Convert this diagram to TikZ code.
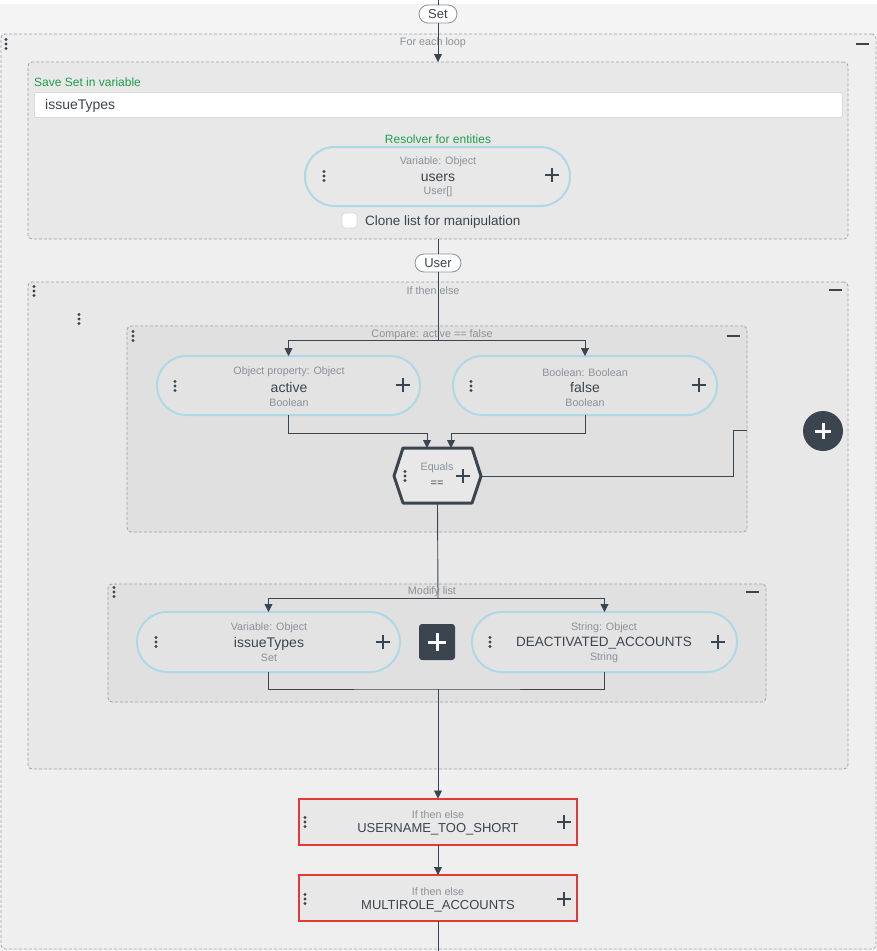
\documentclass[tikz,border=0pt]{standalone}
\usepackage{fontspec}
\setmainfont{Liberation Sans}
\usetikzlibrary{shapes.misc,arrows.meta,fit,calc}
\definecolor{dark}{HTML}{3B4550}
\definecolor{lbl}{HTML}{8A9198}
\definecolor{dashc}{HTML}{9AA0A6}
\definecolor{grn}{HTML}{1E9E4A}
\definecolor{pillc}{HTML}{ADD8E6}
\definecolor{redc}{HTML}{E53935}
\definecolor{bgtop}{HTML}{F4F4F4}
\definecolor{bgloop}{HTML}{EFEFEF}
\definecolor{bgmid}{HTML}{E8E8E8}
\definecolor{bgin}{HTML}{E0E0E0}
\tikzset{
  container/.style={draw=dashc, dash pattern=on 3pt off 2pt, line width=0.8pt, rounded corners=4pt, inner sep=0pt, outer sep=0pt},
  pill/.style={rounded rectangle, draw=pillc, line width=2pt, inner sep=0pt, outer sep=0pt},
  tagpill/.style={rounded rectangle, draw=lbl, fill=white, line width=0.8pt, inner sep=0pt, minimum width=38pt, minimum height=18pt, font=\fontsize{13}{14}\selectfont, text=dark},
  redbox/.style={draw=redc, fill=bgmid, line width=2pt, inner sep=0pt, outer sep=0pt, minimum width=278pt, minimum height=46pt},
  hdr/.style={font=\fontsize{10.8}{12}\selectfont, text=lbl, inner sep=0pt, yshift=-1pt},
  small/.style={font=\fontsize{10.7}{12}\selectfont, text=lbl, inner sep=0pt, yshift=-1.2pt},
  big/.style={font=\fontsize{14}{16}\selectfont, text=dark, inner sep=0pt, yshift=-1.5pt},
  green/.style={font=\fontsize{12}{14}\selectfont, text=grn, inner sep=0pt, yshift=-1pt},
  conn/.style={draw=dark, line width=0.9pt},
  arr/.style={conn, -{Triangle[width=8pt,length=8pt]}},
  threedots/.pic={\foreach \d in {-4.5,0,4.5} \fill[dark] (0,\d) circle (1.6);},
  plusicon/.pic={\draw[dark,line width=2pt] (-7,0)--(7,0) (0,-7)--(0,7);},
  minusicon/.pic={\draw[dark,line width=2.5pt] (-6.5,0)--(6.5,0);},
}
\begin{document}
\begin{tikzpicture}[x=1pt,y=-1pt]
\useasboundingbox (0,0) rectangle (877,951);
\fill[bgtop] (0,0) rectangle (877,951);
\fill[white] (0,0) rectangle (877,4);

% containers
\node[container, fill=bgloop, fit={(1,34) (876,949)}] (loop) {};
\node[hdr] (looplbl) at (433,42) {For each loop};
\pic at (6,44) {threedots};
\pic at (862,44) {minusicon};

\node[container, fill=bgmid, fit={(28,62) (848,239)}] (save) {};
\node[green, anchor=west] (savelbl) at (34,81) {Save Set in variable};
\node[draw=white!85!black, fill=white, rounded corners=2pt, line width=0.8pt, minimum width=808pt, minimum height=25pt, inner sep=0pt, anchor=north west] (input) at (34,92) {};
\node[big, anchor=west] (inputtxt) at (45,104.5) {issueTypes};
\node[green] (reslbl) at (438,138) {Resolver for entities};
\node[pill, fill=bgmid, minimum width=265pt, minimum height=59pt] (users) at (437.5,176.5) {};
\node[small] (usersa) at (438,161) {Variable: Object};
\node[big] (usersb) at (438,176) {users};
\node[small] (usersc) at (438,191) {User[]};
\pic at (324,176) {threedots};
\pic at (552,175) {plusicon};
\node[draw=white!85!black, fill=white, rounded corners=3pt, line width=0.8pt, minimum size=15pt, inner sep=0pt] (chk) at (349.5,220.5) {};
\node[font=\fontsize{13.5}{15}\selectfont, text=dark, inner sep=0pt, anchor=west, yshift=-2pt] (chktxt) at (365,220) {Clone list for manipulation};

\node[container, fill=bgmid, fit={(28,282) (848,769)}] (ite) {};
\node[hdr] (itelbl) at (433,290) {If then else};
\pic at (34,291) {threedots};
\pic at (835,290) {minusicon};
\pic at (79,319) {threedots};

\node[container, fill=bgin, fit={(127,326) (747,532)}] (cmp) {};
\node[hdr] (cmplbl) at (432,334) {Compare: active == false};
\pic at (133,336) {threedots};
\pic at (733,336) {minusicon};

\node[pill, fill=bgin!60!bgmid, minimum width=263pt, minimum height=59pt] (active) at (288.5,385.5) {};
\node[small] (acta) at (289,371) {Object property: Object};
\node[big] (actb) at (289,386) {active};
\node[small] (actc) at (289,401) {Boolean};
\pic at (175,386) {threedots};
\pic at (403,385) {plusicon};

\node[pill, fill=bgin!60!bgmid, minimum width=264pt, minimum height=59pt] (false) at (585,385.5) {};
\node[small] (fala) at (585,371) {Boolean: Boolean};
\node[big] (falb) at (585,386) {false};
\node[small] (falc) at (585,401) {Boolean};
\pic at (471,386) {threedots};
\pic at (699,385) {plusicon};

% hexagon
\node[minimum width=87pt, minimum height=56pt, inner sep=0pt, outer sep=0pt] (eq) at (437.5,475.5) {};
\draw[dark, line width=3pt, fill=bgmid, line join=round] (403,448) -- (472,448) -- (481,476) -- (472,503) -- (403,503) -- (394,476) -- cycle;
\node[small] (eqa) at (437,467) {Equals};
\node[font=\fontsize{11}{12}\selectfont, text=dark, inner sep=0pt, yshift=-1.5pt] (eqb) at (437,482) {==};
\pic at (405,476) {threedots};
\pic at (463,476) {plusicon};

\node[circle, fill=dark, minimum size=40pt, inner sep=0pt] (addc) at (823,431) {};
\draw[white, line width=3pt] (815,431) -- (831,431) (823,423) -- (823,439);

\node[container, fill=bgin, fit={(108,584) (766,702)}] (mod) {};
\node[hdr] (modlbl) at (432,591) {Modify list};
\pic at (114,592) {threedots};
\pic at (752,592) {minusicon};

\node[pill, fill=bgin!60!bgmid, minimum width=263pt, minimum height=60pt] (issue) at (268.5,642) {};
\node[small] (isa) at (269,627) {Variable: Object};
\node[big] (isb) at (269,642) {issueTypes};
\node[small] (isc) at (269,657) {Set};
\pic at (156,642) {threedots};
\pic at (383,642) {plusicon};

\node[fill=dark, rounded corners=3pt, minimum size=36pt, inner sep=0pt] (addsq) at (437,642) {};
\draw[white, line width=3pt] (428,642) -- (446,642) (437,633) -- (437,651);

\node[pill, fill=bgin!60!bgmid, minimum width=265pt, minimum height=60pt] (deact) at (604.5,642) {};
\node[small] (dea) at (604,627) {String: Object};
\node[big, font=\fontsize{13.5}{15}\selectfont] (deb) at (604,642) {DEACTIVATED\_ACCOUNTS};
\node[small] (dec) at (604,657) {String};
\pic at (490,642) {threedots};
\pic at (718,642) {plusicon};

% red boxes
\node[redbox] (r1) at (438,821.5) {};
\node[small] (r1a) at (438,813) {If then else};
\node[big, font=\fontsize{13}{15}\selectfont] (r1b) at (438,828) {USERNAME\_TOO\_SHORT};
\pic at (305,822) {threedots};
\pic at (564,822) {plusicon};

\node[redbox] (r2) at (438,898) {};
\node[small] (r2a) at (438,890) {If then else};
\node[big, font=\fontsize{13}{15}\selectfont] (r2b) at (438,905) {MULTIROLE\_ACCOUNTS};
\pic at (305,899) {threedots};
\pic at (564,899) {plusicon};

% tag pills
\node[tagpill] (set) at (438,14) {Set};
\node[tagpill, minimum width=46pt] (user) at (438,263) {User};

% connectors
\coordinate (top) at (438,0);
\coordinate (bottom) at (438,951);
\coordinate (br1) at (438,340);
\coordinate (eqinL) at (427,448);
\coordinate (eqinR) at (451,448);
\coordinate (eqout) at (747,430);
\coordinate (br2) at (438,598);
\coordinate (join) at (438,689);

\draw[conn] (top) -- (set.north);
\draw[arr] (set.south) -- (save.north);
\draw[conn] (save.south) -- (user.north);
\draw[conn] (user.south) -- (br1);
\draw[arr] (br1) -| (active.north);
\draw[arr] (br1) -| (false.north);
\draw[arr] (active.south) -- ++(0,18) -| (eqinL);
\draw[arr] (false.south) -- ++(0,18) -| (eqinR);
\draw[conn] (481,476) -- (733,476) -- (733,430) -- (eqout);
\draw[conn] (eq.south) -- (br2);
\draw[arr] (br2) -| (issue.north);
\draw[arr] (br2) -| (deact.north);
\draw[conn] (issue.south) |- (join) -| (deact.south);
\draw[arr] (join) -- (r1.north);
\draw[arr] (r1.south) -- (r2.north);
\draw[conn] (r2.south) -- (bottom);
\end{tikzpicture}
\end{document}
